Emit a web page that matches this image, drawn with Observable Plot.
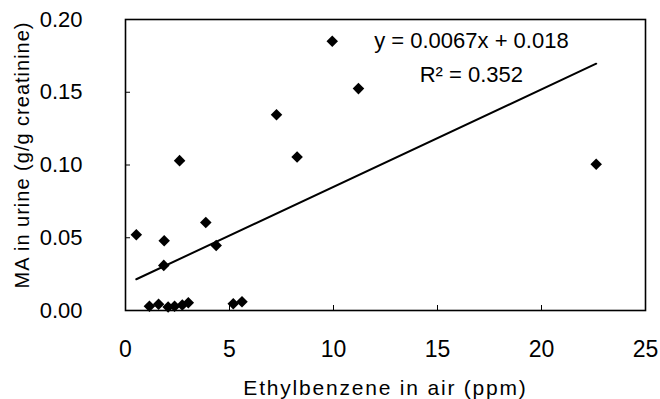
<!DOCTYPE html>
<html>
<head>
<meta charset="utf-8">
<script src="https://cdn.jsdelivr.net/npm/d3@7"></script>
<script src="https://cdn.jsdelivr.net/npm/@observablehq/plot@0.6"></script>
<style>
  html, body { margin: 0; padding: 0; background: white; }
</style>
</head>
<body>
<div id="chart"></div>
<script>
// Data
const ethylbenzene = [0.52, 1.86, 1.84, 2.6, 3.86, 4.36, 7.26, 8.25, 9.94, 11.2, 22.63,
                      1.15, 1.59, 2.05, 2.36, 2.73, 3.02, 5.18, 5.6];
const maUrine      = [0.052, 0.048, 0.031, 0.103, 0.0605, 0.0447, 0.1345, 0.1055, 0.185, 0.1525, 0.1005,
                      0.0029, 0.0043, 0.0024, 0.0029, 0.0038, 0.0053, 0.0047, 0.006];
const slope = 0.0067;
const intercept = 0.018;
const eqLabel = "y = 0.0067x + 0.018";
const r2Label = "R\u00B2 = 0.352";
const xTicks = [0, 5, 10, 15, 20, 25];
const xInnerTicks = [5, 10, 15, 20];
const yTicks = [0, 0.05, 0.10, 0.15, 0.20];
const yInnerTicks = [0.05, 0.10, 0.15];
const xTitle = "Ethylbenzene in air (ppm)";
const yTitle = "MA in urine (g/g creatinine)";

const points = ethylbenzene.map((x, i) => ({x, y: maUrine[i]}));
const fitX = d3.extent(ethylbenzene);
const fit = fitX.map(x => ({x, y: slope * x + intercept}));

const chart = Plot.plot({
  width: 660,
  height: 399,
  marginLeft: 125,
  marginRight: 15,
  marginTop: 19,
  marginBottom: 89,
  x: {domain: [0, 25]},
  y: {domain: [0, 0.2]},
  style: {fontFamily: "'Liberation Sans', Arial, Helvetica, sans-serif", background: "white", color: "black"},
  marks: [
    Plot.axisX(xTicks, {tickSize: 0, tickPadding: 30, fontSize: 23, label: null}),
    Plot.axisX(xInnerTicks, {tickSize: 5, dy: -5, text: null, label: null}),
    Plot.axisY(yTicks, {tickSize: 0, tickPadding: 43, fontSize: 22, tickFormat: d3.format(".2f"), label: null}),
    Plot.axisY(yInnerTicks, {tickSize: 5, dx: 5, text: null, label: null}),
    Plot.frame({stroke: "black", strokeWidth: 1.6}),
    Plot.line(fit, {x: "x", y: "y", stroke: "black", strokeWidth: 2}),
    Plot.dot(points, {x: "x", y: "y", symbol: "diamond2", r: 5.2, fill: "black", stroke: "none"}),
    Plot.text([eqLabel], {x: 16.63, y: 0.185, text: d => d, fontSize: 22, fill: "black"}),
    Plot.text([r2Label], {x: 16.63, y: 0.162, text: d => d, fontSize: 22, fill: "black"}),
    Plot.text([xTitle], {frameAnchor: "bottom", textAnchor: "middle", lineAnchor: "middle", dy: 78, text: d => d, fontSize: 21, fill: "black"}),
    Plot.text([yTitle], {frameAnchor: "left", textAnchor: "middle", lineAnchor: "middle", dx: -103, dy: -10, rotate: -90, text: d => d, fontSize: 20, fill: "black"})
  ]
});

d3.select(chart).selectAll("text").each(function() {
  const t = this.textContent;
  if (t === xTitle) d3.select(this).style("letter-spacing", "1.8px");
  if (t === yTitle) d3.select(this).style("letter-spacing", "1px");
});

document.getElementById("chart").appendChild(chart);
</script>
</body>
</html>
